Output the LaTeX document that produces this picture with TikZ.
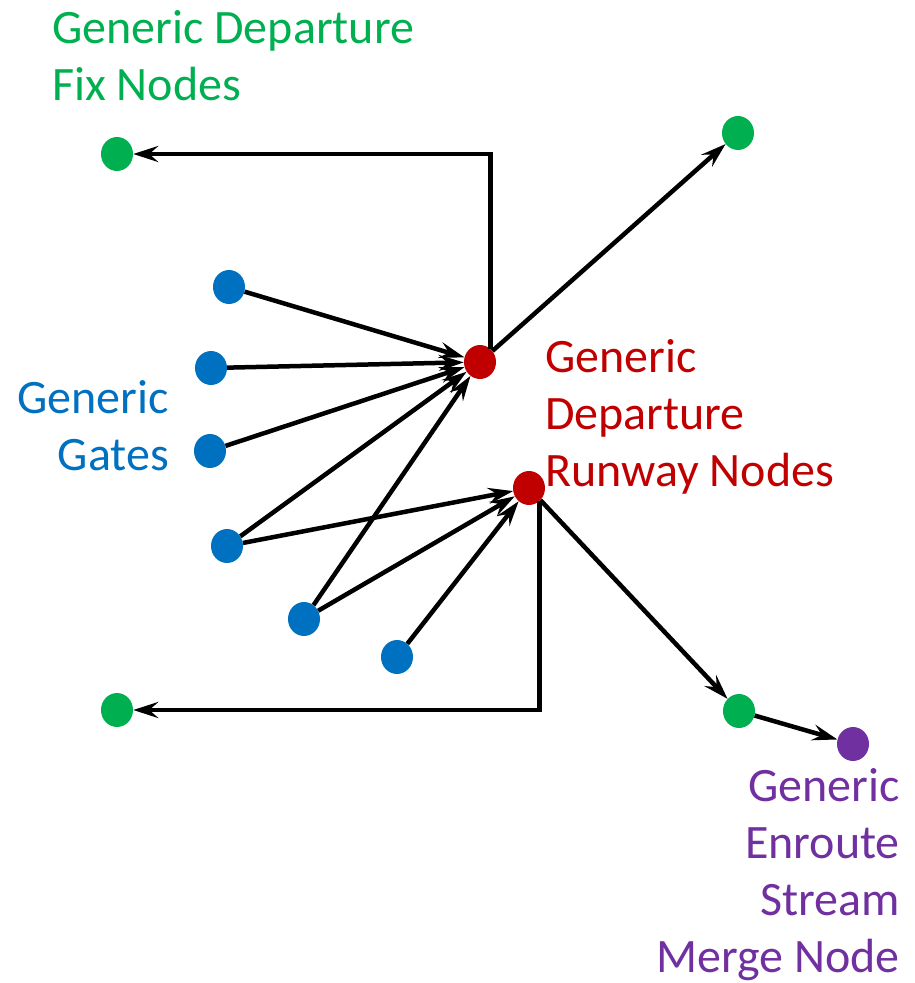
\documentclass[tikz,border=0pt]{standalone}
\usepackage{fontspec}
\setmainfont{Carlito}
\usetikzlibrary{arrows.meta,shapes.geometric}
\definecolor{cgreen}{HTML}{00B050}
\definecolor{cblue}{HTML}{0070C0}
\definecolor{cred}{HTML}{C00000}
\definecolor{cpurple}{HTML}{7030A0}
\begin{document}
\begin{tikzpicture}[x=1pt,y=-1pt,
  dot/.style={ellipse,minimum width=32pt,minimum height=34pt,inner sep=0pt,fill=#1},
  conn/.style={line width=4.5pt,-{Stealth[length=25pt,width=16pt,inset=9pt]}},
  lbl/.style={inner sep=0pt,font=\fontsize{48}{57}\selectfont,text=#1}]
\useasboundingbox (0,0) rectangle (915,983);
% nodes
\node[dot=cgreen] (gTL) at (117,154) {};
\node[dot=cgreen] (gTR) at (738,133) {};
\node[dot=cgreen] (gBL) at (117,710) {};
\node[dot=cgreen] (gBR) at (739,711) {};
\node[dot=cpurple] (pm) at (853,744) {};
\node[dot=cred] (r1) at (480,362) {};
\node[dot=cred] (r2) at (529,488) {};
\node[dot=cblue] (b1) at (229,287) {};
\node[dot=cblue] (b2) at (211,368) {};
\node[dot=cblue] (b3) at (210,451) {};
\node[dot=cblue] (b4) at (227,546) {};
\node[dot=cblue] (b5) at (304,619) {};
\node[dot=cblue] (b6) at (397,657) {};
% labels (base anchor = baseline of last line)
\node[lbl=cgreen,align=left,anchor=base west] (tg) at (52,100) {Generic Departure\\Fix Nodes};
\node[lbl=cblue,align=right,anchor=base east] (tb) at (169,470) {Generic\\Gates};
\node[lbl=cred,align=left,anchor=base west] (tr) at (545,486) {Generic\\Departure\\Runway Nodes};
\node[lbl=cpurple,align=right,anchor=base east] (tp) at (900,972) {Generic\\Enroute\\Stream\\Merge Node};
% connectors
\draw[conn] (r1.52) |- (gTL);
\draw[conn] (r1) -- (gTR);
\draw[conn] (b1) -- (r1);
\draw[conn] (b2) -- (r1);
\draw[conn] (b3) -- (r1);
\draw[conn] (b4) -- (r1);
\draw[conn] (b5) -- (r1);
\draw[conn] (b4) -- (r2);
\draw[conn] (b5) -- (r2);
\draw[conn] (b6) -- (r2);
\draw[conn] (r2.-52) |- (gBL);
\draw[conn] (r2) -- (gBR);
\draw[conn] (gBR) -- (pm);
\end{tikzpicture}
\end{document}
